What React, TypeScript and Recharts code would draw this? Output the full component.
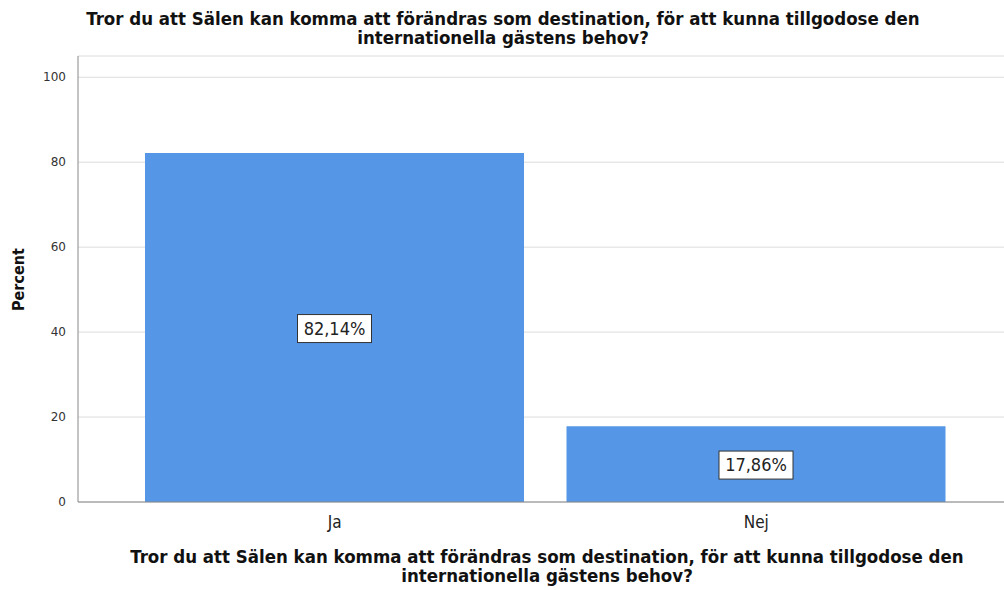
import { Bar, BarChart, CartesianGrid, LabelList, XAxis, YAxis } from "recharts";

const categories = ["Ja", "Nej"];
const percents = [82.14, 17.86];
const yTicks = [0, 20, 40, 60, 80, 100];
const title = ["Tror du att Sälen kan komma att förändras som destination, för att kunna tillgodose den", "internationella gästens behov?"];

const data = categories.map((name, i) => ({ name, value: percents[i] }));

const condensed = "'DejaVu Sans Condensed', 'Liberation Sans Narrow', sans-serif";

function ValueBox(props: any) {
  const { x, y, width, height, value } = props;
  const cx = x + width / 2;
  const cy = y + height / 2 + 1;
  const text = value.toFixed(2).replace(".", ",") + "%";
  return (
    <g>
      <rect x={cx - 37} y={cy - 14} width={74} height={28} fill="#fff" stroke="#333" strokeWidth={1} />
      <text x={cx} y={cy + 1} textAnchor="middle" dominantBaseline="middle" fontSize={18} fill="#222"
        fontFamily={condensed}>
        {text}
      </text>
    </g>
  );
}

export default function App() {
  return (
    <div style={{ position: "absolute", left: 0, top: 0, width: 1004, height: 590, background: "#fff" }}>
      <div style={{ position: "absolute", left: 0, width: 1004, top: 9, textAlign: "center", fontFamily: condensed,
        fontWeight: "bold", fontSize: 18.5, lineHeight: "19px", color: "#111" }}>
        <div style={{ marginLeft: 2 }}>{title[0]}</div>
        <div style={{ marginLeft: 2 }}>{title[1]}</div>
      </div>
      <BarChart width={1004} height={590} data={data} margin={{ top: 56, right: 0, bottom: 58, left: 18 }}>
        <CartesianGrid vertical={false} stroke="#dcdcdc" />
        <XAxis
          dataKey="name"
          height={30}
          padding={{ left: 46, right: 37 }}
          tickLine={false}
          axisLine={{ stroke: "#888" }}
          tick={{ fontSize: 17, fill: "#222", fontFamily: condensed }}
          tickMargin={8}
        />
        <YAxis
          domain={[0, 105]}
          ticks={yTicks}
          width={60}
          tickLine={false}
          axisLine={{ stroke: "#888" }}
          tick={{ fontSize: 12, fill: "#333", fontFamily: "'DejaVu Sans', sans-serif" }}
          tickMargin={6}
          label={{ value: "Percent", angle: -90, position: "insideLeft", offset: 0, dy: 32,
            style: { fontSize: 16, fontWeight: "bold", fill: "#111", fontFamily: condensed } }}
          allowDataOverflow
        />
        <Bar dataKey="value" fill="#5596e6" barSize={379} isAnimationActive={false}>
          <LabelList dataKey="value" content={ValueBox} />
        </Bar>
      </BarChart>
      <div style={{ position: "absolute", left: 90, width: 914, top: 547, textAlign: "center", fontFamily: condensed,
        fontWeight: "bold", fontSize: 18.5, lineHeight: "19px", color: "#111" }}>
        <div>{title[0]}</div>
        <div>{title[1]}</div>
      </div>
    </div>
  );
}
